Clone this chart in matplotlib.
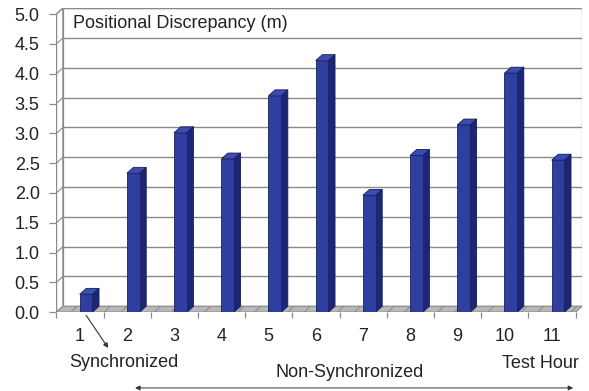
import numpy as np
import matplotlib.pyplot as plt
from matplotlib.patches import Polygon

plt.rcParams['font.family'] = ['Liberation Sans', 'DejaVu Sans']
plt.rcParams['hatch.linewidth'] = 0.8

# test hours and positional discrepancy (m)
hours = [1, 2, 3, 4, 5, 6, 7, 8, 9, 10, 11]
discrepancy = [0.30, 2.33, 3.01, 2.57, 3.63, 4.22, 1.96, 2.63, 3.14, 4.01, 2.55]
y_ticks = [0.0, 0.5, 1.0, 1.5, 2.0, 2.5, 3.0, 3.5, 4.0, 4.5, 5.0]

front_col = "#2f3fa0"
side_col = "#1c2676"
top_col = "#3a4cb0"
grid_col = "#8a8a8a"
floor_col = "#b8b8b8"
text_col = "#222222"

# pseudo-3d depth offsets (x in category units, y in value units)
dx = 0.14
dy = 0.1
bar_w = 0.27
bar_shift = 0.13

fig = plt.figure(figsize=(5.89, 3.91), dpi=100)
ax = fig.add_axes([0.0956, 0.2015, 0.8927, 0.7776])
ax.set_xlim(0.5, 11.5 + dx)
ax.set_ylim(0, 5 + dy)
for s in ax.spines.values():
    s.set_visible(False)

ymax = y_ticks[-1]
x0, x1 = 0.5, 11.5

# left side wall
ax.add_patch(Polygon([(x0, 0), (x0 + dx, dy), (x0 + dx, ymax + dy), (x0, ymax)],
                     closed=True, facecolor="white", edgecolor=grid_col, lw=0.9, zorder=1))
# back wall
ax.add_patch(Polygon([(x0 + dx, dy), (x1 + dx, dy), (x1 + dx, ymax + dy), (x0 + dx, ymax + dy)],
                     closed=True, facecolor="white", edgecolor=grid_col, lw=0.9, zorder=1))
for v in y_ticks[1:]:
    ax.plot([x0 + dx, x1 + dx], [v + dy, v + dy], color=grid_col, lw=1.0, zorder=2)
    ax.plot([x0, x0 + dx], [v, v + dy], color=grid_col, lw=0.8, zorder=2)

# floor
ax.add_patch(Polygon([(x0, 0), (x1, 0), (x1 + dx, dy), (x0 + dx, dy)],
                     closed=True, facecolor=floor_col, edgecolor="#8c8c8c",
                     hatch="//", lw=0.8, zorder=2))

# front value axis
ax.plot([x0, x0], [0, ymax], color=grid_col, lw=1.0, zorder=3)
ax.plot([x0, x1], [0, 0], color=grid_col, lw=1.0, zorder=3)

# bars: front face, side face, top face
for h, v in zip(hours, discrepancy):
    left = h + bar_shift - bar_w / 2
    right = left + bar_w
    ax.bar(left, v, width=bar_w, align="edge", color=front_col,
           edgecolor="#1a2260", lw=0.6, zorder=5)
    ax.add_patch(Polygon([(right, 0), (right + dx, dy), (right + dx, v + dy), (right, v)],
                         closed=True, facecolor=side_col, edgecolor="#141c55", lw=0.6, zorder=4))
    ax.add_patch(Polygon([(left, v), (right, v), (right + dx, v + dy), (left + dx, v + dy)],
                         closed=True, facecolor=top_col, edgecolor="#141c55", lw=0.6, zorder=4))

ax.set_yticks(y_ticks)
ax.set_yticklabels([f"{v:.1f}" for v in y_ticks], fontsize=13, color=text_col)
ax.tick_params(axis="y", length=5, width=0.9, color=grid_col, pad=7)

ax.set_xticks(hours)
ax.set_xticklabels([str(h) for h in hours], fontsize=13, color=text_col)
ax.set_xticks(np.arange(0.5, 12, 1.0), minor=True)
ax.tick_params(axis="x", which="major", length=0, pad=11.5)
ax.tick_params(axis="x", which="minor", length=4, width=0.9, color=grid_col)

ax.text(0.85, 4.84, "Positional Discrepancy (m)", fontsize=13,
        color=text_col, va="center", ha="left", zorder=6)

ax.text(1.93, -0.84, "Synchronized", fontsize=13, color=text_col,
        ha="center", va="center", clip_on=False)
ax.text(6.72, -1.01, "Non-Synchronized", fontsize=13, color=text_col,
        ha="center", va="center", clip_on=False)
ax.text(10.75, -0.86, "Test Hour", fontsize=13, color=text_col,
        ha="center", va="center", clip_on=False)

ax.annotate("", xy=(1.6, -0.6), xytext=(1.13, -0.05), annotation_clip=False,
            arrowprops=dict(arrowstyle="-|>", color="#333333", lw=0.8,
                            mutation_scale=7, shrinkA=0, shrinkB=0))
ax.annotate("", xy=(2.17, -1.27), xytext=(11.45, -1.27), annotation_clip=False,
            arrowprops=dict(arrowstyle="<|-|>", color="#333333", lw=0.7,
                            mutation_scale=7, shrinkA=0, shrinkB=0))

fig.savefig("out.png", dpi=100)
